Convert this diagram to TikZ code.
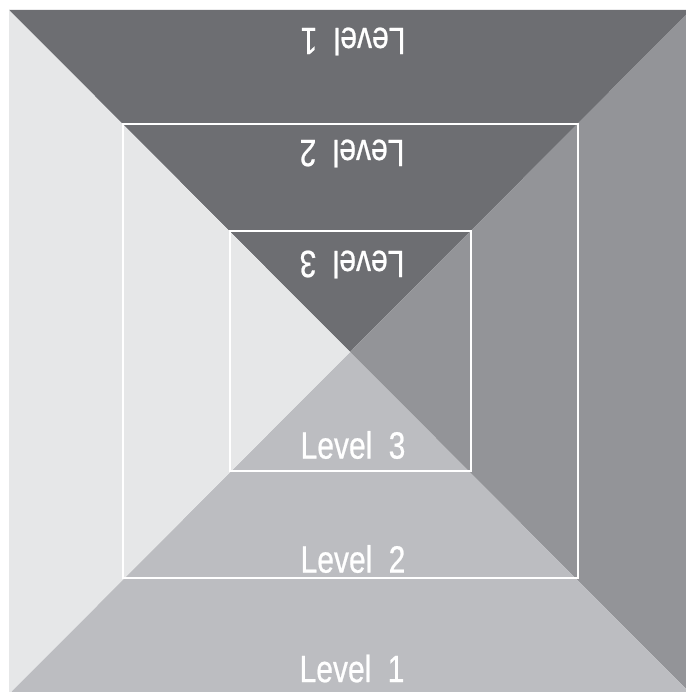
\documentclass[tikz,border=0pt]{standalone}
\usepackage{fontspec}
\newfontfamily\lvfont[FakeStretch=0.79,FakeBold=0.6]{Liberation Sans}
\definecolor{topc}{HTML}{6D6E72}
\definecolor{rightc}{HTML}{939498}
\definecolor{bottomc}{HTML}{BCBDC1}
\definecolor{leftc}{HTML}{E6E7E8}
\begin{document}
\begin{tikzpicture}[x=1bp,y=-1bp,
  lbl/.style={text=white,inner sep=0pt,font=\lvfont\fontsize{38bp}{40bp}\selectfont},
  frame/.style={draw=white,line width=2.8bp}]
\useasboundingbox (0,0) rectangle (686,692);
\fill[white] (0,0) rectangle (686,692);
\begin{scope}
\clip (0,0) rectangle (686,692);
\coordinate (C) at (350,352);
\coordinate (TL) at (9,10);
\coordinate (TR) at (691,10);
\coordinate (BL) at (9,694);
\coordinate (BR) at (691,694);
\fill[topc] (TL) -- (TR) -- (C) -- cycle;
\fill[rightc] (TR) -- (BR) -- (C) -- cycle;
\fill[bottomc] (BR) -- (BL) -- (C) -- cycle;
\fill[leftc] (BL) -- (TL) -- (C) -- cycle;
\end{scope}
\draw[frame] (123,124) rectangle (578,578);
\draw[frame] (230,231) rectangle (471,471);
\node[lbl,rotate=180] (t1) at (353,41.5) {Level \hspace{8bp}1};
\node[lbl,rotate=180] (t2) at (352,153.5) {Level \hspace{8bp}2};
\node[lbl,rotate=180] (t3) at (352,264.5) {Level \hspace{8bp}3};
\node[lbl] (b3) at (353,445) {Level \hspace{8bp}3};
\node[lbl] (b2) at (353,559) {Level \hspace{8bp}2};
\node[lbl] (b1) at (352,668.5) {Level \hspace{8bp}1};
\end{tikzpicture}
\end{document}
